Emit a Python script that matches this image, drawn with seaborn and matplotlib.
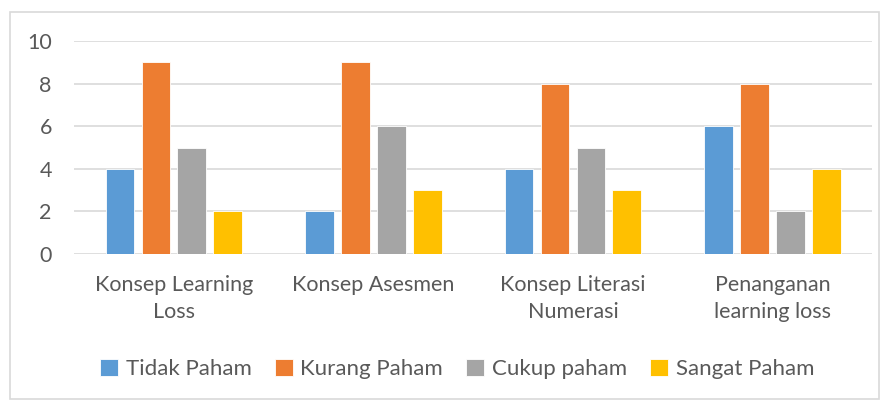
import matplotlib
matplotlib.use("Agg")
import matplotlib.pyplot as plt
import seaborn as sns
import pandas as pd
from matplotlib.patches import Rectangle

categories = ["Konsep Learning Loss", "Konsep Asesmen", "Konsep Literasi Numerasi", "Penanganan learning loss"]
tick_labels = ["Konsep Learning\nLoss", "Konsep Asesmen", "Konsep Literasi\nNumerasi", "Penanganan\nlearning loss"]
series = ["Tidak Paham", "Kurang Paham", "Cukup paham", "Sangat Paham"]
tidak_paham = [4, 2, 4, 6]
kurang_paham = [9, 9, 8, 8]
cukup_paham = [5, 6, 5, 2]
sangat_paham = [2, 3, 3, 4]
colors = ["#5B9BD5", "#ED7D31", "#A5A5A5", "#FFC000"]

rows = []
for s, vals in zip(series, [tidak_paham, kurang_paham, cukup_paham, sangat_paham]):
    for c, v in zip(categories, vals):
        rows.append({"cat": c, "series": s, "value": v})
df = pd.DataFrame(rows)

sns.set_theme(style="white")
plt.rcParams['font.family'] = ['Lato', 'DejaVu Sans']
text_color = "#595959"

fig = plt.figure(figsize=(8.82, 4.0), dpi=100)
ax = fig.add_axes([0.084, 0.365, 0.905, 0.5325])
sns.barplot(data=df, x="cat", y="value", hue="series", hue_order=series, order=categories,
            palette=colors, width=0.72, gap=0.2, ax=ax, edgecolor="white", linewidth=0.6,
            saturation=1, legend=True)
ax.set_ylim(0, 10)
ax.set_yticks([0, 2, 4, 6, 8, 10])
ax.yaxis.grid(True, color="#D9D9D9", linewidth=1.2)
ax.set_axisbelow(True)
for sp in ax.spines.values():
    sp.set_visible(False)
ax.set_xlabel("")
ax.set_ylabel("")
ax.set_xticks(range(len(categories)))
ax.set_xticklabels(tick_labels, linespacing=1.45)
ax.tick_params(axis="x", length=0, pad=15, labelsize=15.5, labelcolor=text_color)
ax.tick_params(axis="y", length=0, pad=16, labelsize=15.5, labelcolor=text_color)

leg = ax.legend(loc="upper center", bbox_to_anchor=(0.48, -0.40), ncol=4, frameon=False,
                fontsize=16, handlelength=0.8, handleheight=0.8, handletextpad=0.35,
                columnspacing=1.05, labelcolor=text_color)

fig.patches.append(Rectangle((0.011, 0.003), 0.986, 0.967, transform=fig.transFigure,
                             fill=False, edgecolor="#D9D9D9", linewidth=1.2))
fig.savefig("out.png", dpi=100)
